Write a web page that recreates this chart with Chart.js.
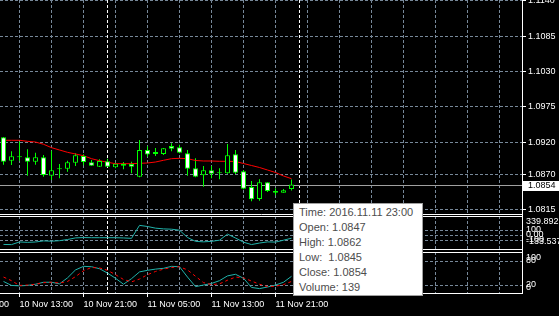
<!DOCTYPE html>
<html>
<head>
<meta charset="utf-8">
<script src="https://cdn.jsdelivr.net/npm/chart.js@4.4.0/dist/chart.umd.min.js"></script>
<style>
  html, body { margin: 0; padding: 0; background: #000; }
  body { width: 559px; height: 316px; position: relative; overflow: hidden; }
  canvas { position: absolute; left: 0; }
  #tip {
    position: absolute; left: 293px; top: 203px; width: 130px; height: 93px;
    box-sizing: border-box; background: #fff; border: 1px solid #a0a0a0;
    padding: 1px 0 0 5px; font: 11px "Liberation Sans", Arial, sans-serif;
    line-height: 15px; color: #4d4d4d; white-space: pre;
  }
</style>
</head>
<body>
<canvas id="price" width="559" height="216" style="top:0px"></canvas>
<canvas id="cci" width="559" height="36" style="top:216px"></canvas>
<canvas id="stoch" width="559" height="64" style="top:252px"></canvas>
<div id="tip"></div>
<script>
// ======= DATA (H1 candles, 10 Nov 11:00 .. 11 Nov 23:00) =======
const opens  = [1.09275, 1.08912, 1.08965, 1.08965, 1.08896, 1.08965, 1.08679, 1.08778, 1.08787, 1.08880,
                1.08985, 1.08887, 1.08818, 1.08902, 1.08809, 1.08834, 1.08860, 1.08663, 1.09078, 1.09016,
                1.09016, 1.09140, 1.09120, 1.09027, 1.08794, 1.08685, 1.08762, 1.08716, 1.08716, 1.09011,
                1.08747, 1.08503, 1.08316, 1.08576, 1.08414, 1.08414, 1.0847];
const highs  = [1.09280, 1.09058, 1.09207, 1.09089, 1.09036, 1.09000, 1.09067, 1.08860, 1.08912, 1.09027,
                1.09011, 1.08923, 1.08934, 1.08943, 1.08880, 1.08891, 1.08896, 1.09233, 1.09137, 1.09109,
                1.09109, 1.09182, 1.09160, 1.09078, 1.08949, 1.08829, 1.08829, 1.08794, 1.09171, 1.09078,
                1.08767, 1.08596, 1.08622, 1.08576, 1.08483, 1.08472, 1.0862];
const lows   = [1.08849, 1.08845, 1.08912, 1.08679, 1.08849, 1.08663, 1.08612, 1.08638, 1.08741, 1.08829,
                1.08840, 1.08834, 1.08814, 1.08818, 1.08794, 1.08778, 1.08716, 1.08654, 1.08974, 1.08985,
                1.09000, 1.09058, 1.09027, 1.08679, 1.08654, 1.08507, 1.08638, 1.08622, 1.08710, 1.08705,
                1.08467, 1.08280, 1.08290, 1.08425, 1.08374, 1.08414, 1.0845];
const closes = [1.08896, 1.08980, 1.08965, 1.08896, 1.08965, 1.08690, 1.08762, 1.08794, 1.08887, 1.08996,
                1.08891, 1.08834, 1.08907, 1.08818, 1.08865, 1.08865, 1.08818, 1.09078, 1.09008, 1.09047,
                1.09104, 1.09098, 1.09036, 1.08787, 1.08663, 1.08762, 1.08710, 1.08716, 1.08996, 1.08725,
                1.08476, 1.08311, 1.08576, 1.08441, 1.08441, 1.08451, 1.0854];
const maValues = [1.09229, 1.09229, 1.09229, 1.09213, 1.09202, 1.09167, 1.09114, 1.09078, 1.09042, 1.09016,
                  1.08989, 1.08943, 1.08912, 1.08887, 1.08865, 1.08865, 1.08865, 1.08871, 1.08876, 1.08891,
                  1.08918, 1.08943, 1.08949, 1.08943, 1.08915, 1.08907, 1.08907, 1.08902, 1.08902, 1.08899,
                  1.08868, 1.08837, 1.08806, 1.08767, 1.08728, 1.08674, 1.08632];
const cciValues = [-175, -178, -125, -133, -126, -104, -110, -100, -76, -44,
                   -37, -40, -40, -40, -40, -45, -53, 207, 184, 151,
                   136, 130, 110, -36, -113, -123, -113, -90, 31, -46,
                   -130, -177, -147, -124, -128, -90, -50];
const stochMain = [29, 19, 18, 19, 22, 27, 27, 23, 38, 58,
                   67, 66, 61, 50, 37, 22, 36, 53, 57, 60,
                   62, 67, 66, 40, 16, 20, 24, 31, 43, 47,
                   37, 14, 11, 15, 20, 27, 42];
const stochSignal = [40, 31, 19, 20, 22, 26, 27, 25, 29, 41,
                     56, 64, 63, 57, 46, 34, 28, 35, 46, 54,
                     60, 64, 66, 58, 42, 26, 21, 23, 32, 40,
                     38, 30, 22, 16, 17, 21, 29];

const priceTicks = [1.1140, 1.1085, 1.1030, 1.0975, 1.0920, 1.0870, 1.0815];
const timeTickIdx = [-6, 2, 10, 18, 26, 34];
const timeTickLabels = ['10 Nov 05:00', '10 Nov 13:00', '10 Nov 21:00', '11 Nov 05:00', '11 Nov 13:00', '11 Nov 21:00'];
const separatorIdx = [13, 37];          // day boundaries
const cciLevels = [100, 0, -100];
const cciLabelValues = [339.892, 100, 0, -100, -133.537];
const cciLabelTexts = ['339.892', '100', '0.00', '-100', '-133.537'];
const stochLevels = [80, 20];
const stochLabelValues = [100, 80, 20, 0];
const stochLabelTexts = ['100', '80', '20', '0'];
const lastTime = '2016.11.11 23:00';
const lastVolume = 139;

// ======= STYLE =======
const FONT = '"Liberation Sans", Arial, sans-serif';
const GRID = '#778899';
const CANDLE = '#00ff00';
const TEAL = '#20b2aa';
const N = opens.length;
const xMin = -0.4375, xMax = 64.8125;   // 8 px per bar, plot area 0..522
const gridTicks = [];
for (let v = -6; v <= 62; v += 4) gridTicks.push(v);

Chart.defaults.font.family = FONT;
Chart.defaults.color = '#ffffff';

function xAxis(withLabels) {
  return {
    type: 'linear', min: xMin, max: xMax, offset: false,
    afterBuildTicks: s => { s.ticks = gridTicks.map(v => ({ value: v })); },
    afterFit: s => {
      s.height = withLabels ? 23 : (withLabels === false ? 2 : 3);
      s.paddingLeft = 0; s.paddingRight = 0;
    },
    ticks: {
      display: !!withLabels, autoSkip: false, maxRotation: 0, align: 'start', padding: 2,
      color: '#ffffff', font: { family: FONT, size: 9 },
      callback: v => { const k = timeTickIdx.indexOf(v); return k >= 0 ? timeTickLabels[k] : ''; }
    },
    grid: {
      offset: false, color: GRID, lineWidth: 1, drawTicks: !!withLabels, tickLength: 4,
      tickBorderDash: [],
      tickColor: c => (c.tick && timeTickIdx.indexOf(c.tick.value) >= 0) ? '#ffffff' : 'rgba(0,0,0,0)'
    },
    border: { display: false, dash: [3, 2] }
  };
}

function yAxis(min, max, levels, showTicks) {
  return {
    position: 'right', min: min, max: max, beginAtZero: false,
    afterBuildTicks: s => { s.ticks = levels.map(v => ({ value: v })); },
    afterFit: s => { s.width = 37; s.paddingTop = 0; s.paddingBottom = 0; },
    ticks: {
      display: showTicks, autoSkip: false, padding: 2, color: '#ffffff',
      font: { family: FONT, size: 9 }, callback: v => v.toFixed(4)
    },
    grid: { color: GRID, lineWidth: 1, drawTicks: showTicks, tickLength: 4, tickColor: '#ffffff', tickBorderDash: [] },
    border: { display: true, color: '#ffffff', dash: [3, 2] }
  };
}

// ======= FRAME / SEPARATORS / SIDE LABELS =======
const mtFrame = {
  id: 'mtFrame',
  beforeDatasetsDraw(chart, args, opts) {
    const { ctx, chartArea: a, scales } = chart;
    ctx.save();
    ctx.beginPath(); ctx.rect(a.left, a.top, a.width, a.height); ctx.clip();
    ctx.lineWidth = 1;
    ctx.strokeStyle = '#ffffff';
    ctx.setLineDash([3, 2]);
    separatorIdx.forEach(i => {
      const px = Math.floor(scales.x.getPixelForValue(i)) + 0.5;
      ctx.beginPath(); ctx.moveTo(px, a.top); ctx.lineTo(px, a.bottom); ctx.stroke();
    });
    if (opts.bid) {
      const py = Math.round(scales.y.getPixelForValue(closes[N - 1])) + 0.5;
      ctx.setLineDash([]);
      ctx.strokeStyle = '#a0a0a0';
      ctx.beginPath(); ctx.moveTo(a.left, py); ctx.lineTo(a.right, py); ctx.stroke();
    }
    ctx.restore();
  },
  afterDraw(chart, args, opts) {
    const { ctx, chartArea: a, scales } = chart;
    ctx.save();
    ctx.strokeStyle = '#ffffff'; ctx.lineWidth = 1; ctx.setLineDash([]);
    ctx.beginPath();
    if (opts.top) { ctx.moveTo(a.left, a.top + 0.5); ctx.lineTo(a.right, a.top + 0.5); }
    ctx.moveTo(a.left, a.bottom + 0.5); ctx.lineTo(a.right + 1, a.bottom + 0.5);
    ctx.moveTo(a.right + 0.5, 0); ctx.lineTo(a.right + 0.5, opts.fullRight ? chart.height : a.bottom + 1);
    ctx.stroke();

    ctx.font = '9px ' + FONT;
    ctx.textBaseline = 'middle';
    ctx.textAlign = 'left';
    if (opts.labelValues) {
      ctx.fillStyle = '#ffffff';
      opts.labelValues.forEach((v, k) => {
        let y = scales.y.getPixelForValue(v) - 1;
        y = Math.min(Math.max(y, a.top + 6), a.bottom - 5);
        ctx.fillText(opts.labelTexts[k], a.right + 4, y);
      });
    }
    if (opts.bid) {
      const top = Math.round(scales.y.getPixelForValue(closes[N - 1])) - 4;
      ctx.fillStyle = '#ffffff';
      ctx.fillRect(a.right + 1, top, 37, 10);
      ctx.fillStyle = '#000000';
      ctx.fillText(closes[N - 1].toFixed(4), a.right + 6, top + 5);
    }
    ctx.restore();
  }
};

const common = {
  responsive: false, animation: false, events: [],
  layout: { padding: 0, autoPadding: false },
};

// ======= PRICE WINDOW =======
new Chart(document.getElementById('price'), {
  type: 'bar',
  data: {
    datasets: [
      {
        type: 'bar', order: 0, grouped: false, barThickness: 5, minBarLength: 1, inflateAmount: 0,
        data: opens.map((o, i) => ({ x: i, y: [o, closes[i]] })),
        backgroundColor: c => closes[c.dataIndex] > opens[c.dataIndex] ? '#000000' : '#ffffff',
        borderColor: CANDLE, borderWidth: 1, borderSkipped: false
      },
      {
        type: 'line', order: 1,
        data: maValues.map((v, i) => ({ x: i, y: v })),
        borderColor: '#ff0000', borderWidth: 1, pointRadius: 0, tension: 0
      },
      {
        type: 'bar', order: 2, grouped: false, barThickness: 1, inflateAmount: 0,
        data: lows.map((l, i) => ({ x: i, y: [l, highs[i]] })),
        backgroundColor: CANDLE, borderWidth: 0
      }
    ]
  },
  options: Object.assign({}, common, {
    scales: { x: xAxis(false), y: yAxis(1.08083, 1.11410, priceTicks, true) },
    plugins: { legend: { display: false }, tooltip: { enabled: false },
               mtFrame: { bid: true, fullRight: true } }
  }),
  plugins: [mtFrame]
});

// ======= CCI WINDOW =======
new Chart(document.getElementById('cci'), {
  type: 'line',
  data: {
    datasets: [{
      data: cciValues.map((v, i) => ({ x: i, y: v })),
      borderColor: TEAL, borderWidth: 1, pointRadius: 0, tension: 0
    }]
  },
  options: Object.assign({}, common, {
    scales: { x: xAxis(null), y: yAxis(-266, 394, cciLevels, false) },
    plugins: { legend: { display: false }, tooltip: { enabled: false },
               mtFrame: { top: true, fullRight: true, labelValues: cciLabelValues, labelTexts: cciLabelTexts } }
  }),
  plugins: [mtFrame]
});

// ======= STOCHASTIC WINDOW =======
new Chart(document.getElementById('stoch'), {
  type: 'line',
  data: {
    datasets: [
      {
        data: stochSignal.map((v, i) => ({ x: i, y: v })),
        borderColor: '#ff0000', borderWidth: 1, borderDash: [3, 3], pointRadius: 0, tension: 0
      },
      {
        data: stochMain.map((v, i) => ({ x: i, y: v })),
        borderColor: TEAL, borderWidth: 1, pointRadius: 0, tension: 0
      }
    ]
  },
  options: Object.assign({}, common, {
    scales: { x: xAxis(true), y: yAxis(0, 103, stochLevels, false) },
    plugins: { legend: { display: false }, tooltip: { enabled: false },
               mtFrame: { top: true, fullRight: false, labelValues: stochLabelValues, labelTexts: stochLabelTexts } }
  }),
  plugins: [mtFrame]
});

// ======= DATA WINDOW TOOLTIP (last bar) =======
document.getElementById('tip').textContent = [
  'Time: ' + lastTime,
  'Open: ' + opens[N - 1].toFixed(4),
  'High: ' + highs[N - 1].toFixed(4),
  'Low:  ' + lows[N - 1].toFixed(4),
  'Close: ' + closes[N - 1].toFixed(4),
  'Volume: ' + lastVolume
].join('\n');
</script>
</body>
</html>
